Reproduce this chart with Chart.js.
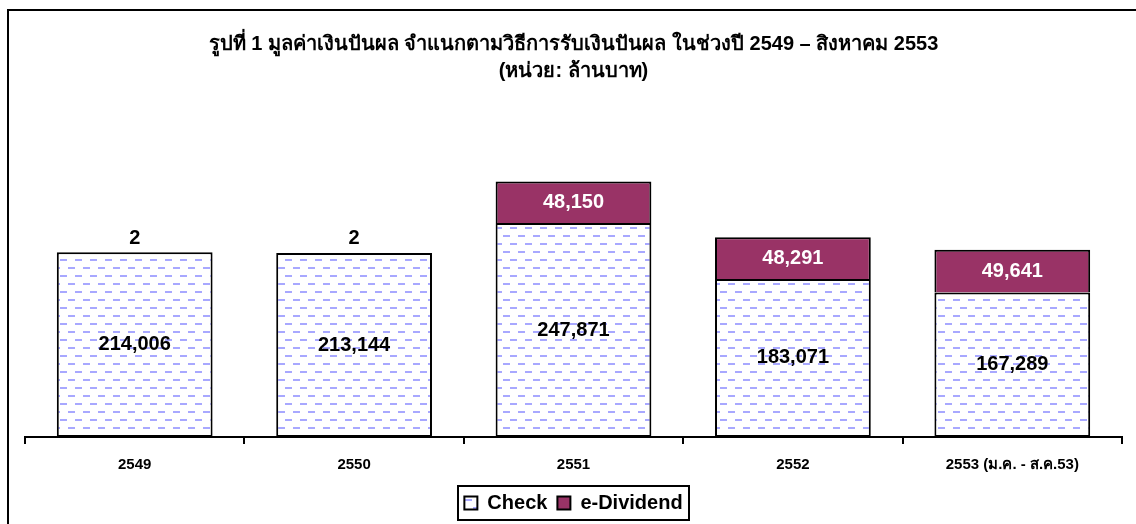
<!DOCTYPE html>
<html>
<head>
<meta charset="utf-8">
<script src="https://cdn.jsdelivr.net/npm/chart.js@4"></script>
<style>
    body { margin: 0; background: #fff; }
    canvas { display: block; }
</style>
</head>
<body>
<canvas id="divChart" width="1136" height="524"></canvas>
<script>
const categories = ['2549', '2550', '2551', '2552', '2553 (ม.ค. - ส.ค.53)'];
const checkValues = [214006, 213144, 247871, 183071, 167289];
const eDividendValues = [2, 2, 48150, 48291, 49641];
const titleLines = [
    'รูปที่ 1 มูลค่าเงินปันผล จำแนกตามวิธีการรับเงินปันผล ในช่วงปี 2549 – สิงหาคม 2553',
    '(หน่วย: ล้านบาท)'
];

const FONT = '"Liberation Sans", Arial, sans-serif';

// dashed blue fill like the Excel pattern
function makeDashPattern() {
    const c = document.createElement('canvas');
    c.width = 15;
    c.height = 16;
    const g = c.getContext('2d');
    g.fillStyle = '#fff';
    g.fillRect(0, 0, 15, 16);
    g.fillStyle = '#a8a8ff';
    g.fillRect(0, 3, 7, 2);
    g.fillRect(8, 11, 7, 2);
    return g.createPattern(c, 'repeat');
}

// frame of the chart object, only its top and left edges are in the picture
const outerFrame = {
    id: 'outerFrame',
    beforeDraw(chart) {
        const ctx = chart.ctx;
        ctx.save();
        ctx.fillStyle = '#fff';
        ctx.fillRect(0, 0, chart.width, chart.height);
        ctx.strokeStyle = '#000';
        ctx.lineWidth = 2;
        ctx.beginPath();
        ctx.moveTo(8, chart.height);
        ctx.lineTo(8, 10);
        ctx.lineTo(chart.width, 10);
        ctx.stroke();
        ctx.restore();
    }
};

const valueLabels = {
    id: 'valueLabels',
    afterDatasetsDraw(chart) {
        const ctx = chart.ctx;
        ctx.save();
        ctx.font = 'bold 20px ' + FONT;
        ctx.textAlign = 'center';
        ctx.textBaseline = 'middle';
        chart.data.datasets.forEach((ds, di) => {
            chart.getDatasetMeta(di).data.forEach((bar, i) => {
                const v = ds.data[i];
                const txt = v.toLocaleString('en-US');
                if (di === 1 && v < 1000) {
                    ctx.fillStyle = '#000';
                    ctx.fillText(txt, bar.x, bar.y - 14);
                } else {
                    ctx.fillStyle = di === 1 ? '#fff' : '#000';
                    ctx.fillText(txt, bar.x, (bar.y + bar.base) / 2);
                }
            });
        });
        ctx.restore();
    }
};

const legendFrame = {
    id: 'legendFrame',
    afterDraw(chart) {
        const boxes = chart.legend.legendHitBoxes;
        if (!boxes || !boxes.length) return;
        const left = Math.min(...boxes.map(b => b.left)) - 6;
        const right = Math.max(...boxes.map(b => b.left + b.width)) + 7;
        const mid = boxes[0].top + boxes[0].height / 2;
        const ctx = chart.ctx;
        ctx.save();
        ctx.strokeStyle = '#000';
        ctx.lineWidth = 2;
        ctx.strokeRect(Math.round(left), Math.round(mid - 17), Math.round(right - left), 34);
        ctx.restore();
    }
};

const ctx = document.getElementById('divChart').getContext('2d');
new Chart(ctx, {
    type: 'bar',
    data: {
        labels: categories,
        datasets: [{
            label: 'Check',
            data: checkValues,
            backgroundColor: makeDashPattern(),
            borderColor: '#000',
            borderWidth: 2,
            borderSkipped: false,
            barPercentage: 0.71,
            categoryPercentage: 1
        }, {
            label: 'e-Dividend',
            data: eDividendValues,
            backgroundColor: '#993366',
            borderColor: '#000',
            borderWidth: 2,
            borderSkipped: 'start',
            barPercentage: 0.71,
            categoryPercentage: 1
        }]
    },
    options: {
        responsive: false,
        animation: false,
        layout: { padding: { left: 25, right: 14, top: 0, bottom: 1 } },
        plugins: {
            title: {
                display: true,
                text: titleLines,
                color: '#000',
                font: { family: FONT, size: 20, weight: 'bold', lineHeight: 1.35 },
                padding: { top: 31, bottom: 93 }
            },
            legend: {
                position: 'bottom',
                labels: {
                    color: '#000',
                    font: { family: FONT, size: 20, weight: 'bold' },
                    boxWidth: 13,
                    boxHeight: 13,
                    padding: 10
                }
            },
            tooltip: { enabled: false }
        },
        scales: {
            x: {
                stacked: true,
                grid: { display: true, drawOnChartArea: false, color: '#000', lineWidth: 2, tickLength: 7 },
                border: { display: true, color: '#000', width: 2 },
                ticks: {
                    color: '#000',
                    font: { family: FONT, size: 15, weight: 'bold' },
                    padding: 12,
                    maxRotation: 0,
                    autoSkip: false
                },
                afterFit(scale) { scale.height = 46; }
            },
            y: {
                stacked: true,
                display: false,
                min: 0,
                max: 300000
            }
        }
    },
    plugins: [outerFrame, valueLabels, legendFrame]
});
</script>
</body>
</html>
